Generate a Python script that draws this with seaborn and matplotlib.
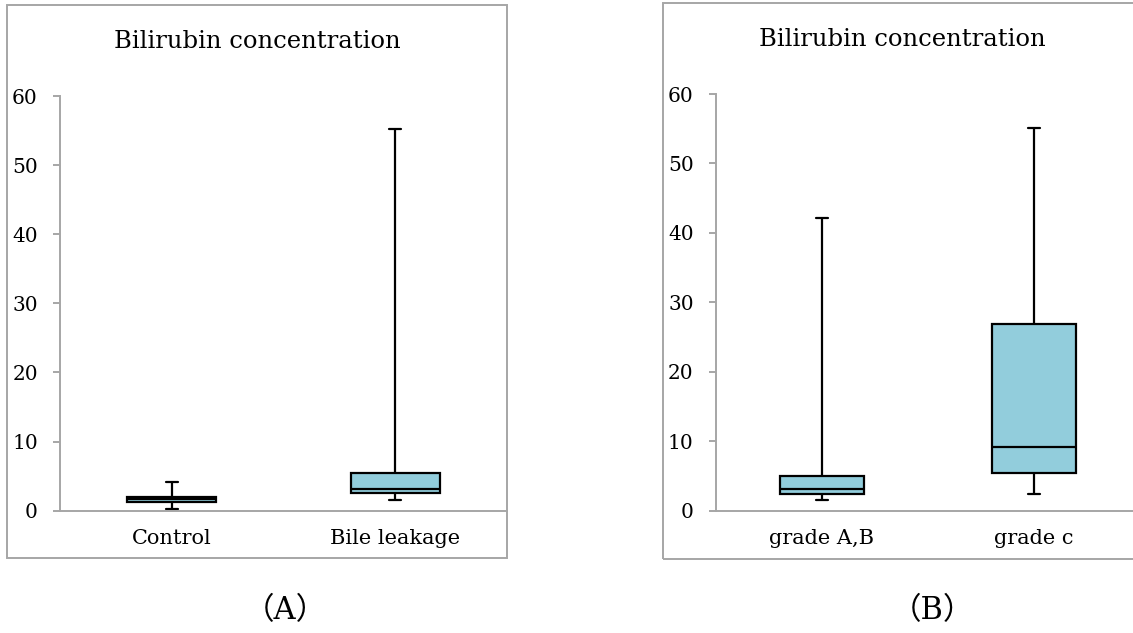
import pandas as pd
import matplotlib
matplotlib.use("Agg")
import matplotlib.pyplot as plt
from matplotlib.patches import Rectangle
import seaborn as sns

# five-number summaries: min, q1, median, q3, max
groups_a = ["Control", "Bile leakage"]
control = [0.3, 1.2, 1.65, 2.0, 4.2]
bile_leakage = [1.5, 2.5, 3.2, 5.5, 55.3]

groups_b = ["grade A,B", "grade c"]
grade_ab = [1.5, 2.45, 3.1, 5.05, 42.2]
grade_c = [2.35, 5.4, 9.2, 26.9, 55.1]

title = "Bilirubin concentration"
yticks = [0, 10, 20, 30, 40, 50, 60]
panel_labels = ["（A）", "（B）"]

df_a = pd.DataFrame({
    "group": [groups_a[0]] * 5 + [groups_a[1]] * 5,
    "value": control + bile_leakage,
})
df_b = pd.DataFrame({
    "group": [groups_b[0]] * 5 + [groups_b[1]] * 5,
    "value": grade_ab + grade_c,
})

sns.set_style("white")
plt.rcParams["font.family"] = ["DejaVu Serif", "Noto Sans CJK JP"]
plt.rcParams["text.color"] = "black"
plt.rcParams["xtick.labelcolor"] = "black"
plt.rcParams["ytick.labelcolor"] = "black"

GRAY = "#a6a6a6"
BOX = "#92CDDC"

fig = plt.figure(figsize=(11.33, 6.33), dpi=100)

ax_a = fig.add_axes([0.0530, 0.1932, 0.3945, 0.6551])
ax_b = fig.add_axes([0.6319, 0.1932, 0.3742, 0.6583])

for ax, df, groups in [(ax_a, df_a, groups_a), (ax_b, df_b, groups_b)]:
    sns.boxplot(
        data=df, x="group", y="value", order=groups, ax=ax,
        whis=(0, 100), width=0.4, color=BOX, saturation=1,
        linecolor="black", linewidth=1.6, fliersize=0, capwidths=0.055,
    )
    ax.set_xlim(-0.5, 1.5)
    ax.set_ylim(0, 60)
    ax.set_yticks(yticks)
    ax.set_xlabel("")
    ax.set_ylabel("")
    for side in ["top", "right"]:
        ax.spines[side].set_visible(False)
    for side in ["left", "bottom"]:
        ax.spines[side].set_color(GRAY)
        ax.spines[side].set_linewidth(1.4)
    ax.set_xticks([-0.5, 0.5, 1.5], minor=True)
    ax.tick_params(axis="x", which="major", length=0, pad=13, labelsize=15,
                   labelcolor="black")
    ax.tick_params(axis="x", which="minor", length=5, width=1.4, color=GRAY, direction="out")
    ax.tick_params(axis="y", which="major", length=5, width=1.4, color=GRAY,
                   direction="out", left=True, pad=11, labelsize=14.5,
                   labelcolor="black")
    ax.patch.set_alpha(0)

# chart area frames
fig.add_artist(Rectangle((0.0062, 0.1185), 0.4413, 0.8736, transform=fig.transFigure,
                         fill=False, edgecolor=GRAY, linewidth=1.4))
fig.add_artist(Rectangle((0.5852, 0.1169), 0.4254, 0.8776, transform=fig.transFigure,
                         fill=False, edgecolor=GRAY, linewidth=1.4))

fig.text(0.2273, 0.934, title, ha="center", va="center", fontsize=17.5, color="black")
fig.text(0.7966, 0.937, title, ha="center", va="center", fontsize=17.5, color="black")

fig.text(0.2515, 0.036, panel_labels[0], ha="center", va="center", fontsize=22, color="black")
fig.text(0.8226, 0.036, panel_labels[1], ha="center", va="center", fontsize=22, color="black")

fig.savefig("out.png", dpi=100)
